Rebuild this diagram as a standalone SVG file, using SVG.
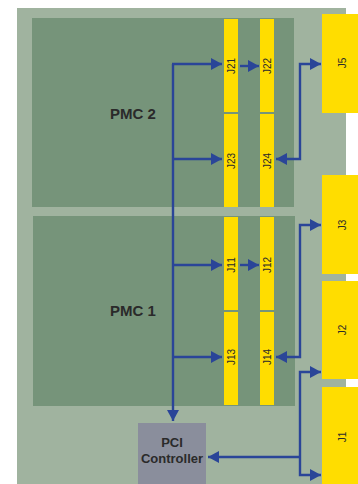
<svg xmlns="http://www.w3.org/2000/svg" width="358" height="484" viewBox="0 0 358 484">
<style>
.board{fill:#a0b39f}
.pmc{fill:#76947a}
.conn{fill:#ffdd00}
.pci{fill:#8a8e9c}
.lbl{font-family:"Liberation Sans",Arial,sans-serif;font-size:10px;fill:#2a2a2a;text-anchor:middle;dominant-baseline:central}
.big{font-family:"Liberation Sans",Arial,sans-serif;font-weight:bold;fill:#2a2a2a;text-anchor:middle}
.wire{fill:none;stroke:#2a4598;stroke-width:2.4}
</style>
<defs>
<marker id="ah" markerUnits="userSpaceOnUse" markerWidth="11" markerHeight="12" refX="11" refY="6" orient="auto-start-reverse">
<path d="M0,0 L11,6 L0,12 z" fill="#2a4598"/>
</marker>
</defs>
<rect width="358" height="484" fill="#ffffff"/>
<rect id="board" class="board" x="17" y="8" width="329" height="476"/>
<g id="pmc2">
<rect class="pmc" x="32" y="18" width="262" height="189"/>
<text class="big" x="133" y="119" font-size="15">PMC 2</text>
</g>
<g id="pmc1">
<rect class="pmc" x="33" y="216" width="262" height="190"/>
<text class="big" x="133" y="316" font-size="15">PMC 1</text>
</g>
<g id="J21"><rect class="conn" x="224" y="19" width="14" height="93"/><text class="lbl" transform="translate(231,66) rotate(-90)">J21</text></g>
<g id="J23"><rect class="conn" x="224" y="114" width="14" height="93"/><text class="lbl" transform="translate(231,161) rotate(-90)">J23</text></g>
<g id="J22"><rect class="conn" x="260" y="19" width="14" height="93"/><text class="lbl" transform="translate(267,66) rotate(-90)">J22</text></g>
<g id="J24"><rect class="conn" x="260" y="114" width="14" height="93"/><text class="lbl" transform="translate(267,161) rotate(-90)">J24</text></g>
<g id="J11"><rect class="conn" x="224" y="217" width="14" height="93"/><text class="lbl" transform="translate(231,265) rotate(-90)">J11</text></g>
<g id="J13"><rect class="conn" x="224" y="312" width="14" height="93"/><text class="lbl" transform="translate(231,357) rotate(-90)">J13</text></g>
<g id="J12"><rect class="conn" x="260" y="217" width="14" height="93"/><text class="lbl" transform="translate(267,265) rotate(-90)">J12</text></g>
<g id="J14"><rect class="conn" x="260" y="312" width="14" height="93"/><text class="lbl" transform="translate(267,357) rotate(-90)">J14</text></g>
<g id="J5"><rect class="conn" x="322" y="14" width="40" height="99"/><text class="lbl" transform="translate(342,63) rotate(-90)">J5</text></g>
<g id="J3"><rect class="conn" x="322" y="175" width="40" height="99"/><text class="lbl" transform="translate(342,225) rotate(-90)">J3</text></g>
<g id="J2"><rect class="conn" x="322" y="281" width="40" height="98"/><text class="lbl" transform="translate(342,330) rotate(-90)">J2</text></g>
<g id="J1"><rect class="conn" x="322" y="387" width="40" height="100"/><text class="lbl" transform="translate(342,437) rotate(-90)">J1</text></g>
<g id="pci">
<rect class="pci" x="138" y="423" width="68" height="64"/>
<text class="big" x="172" y="447" font-size="13">PCI</text>
<text class="big" x="172" y="463" font-size="13">Controller</text>
</g>
<g id="connectors">
<path class="wire" d="M173,64 V421" marker-end="url(#ah)"/>
<path class="wire" d="M172,64 H222" marker-end="url(#ah)"/>
<path class="wire" d="M173,159 H222" marker-end="url(#ah)"/>
<path class="wire" d="M173,265 H222" marker-end="url(#ah)"/>
<path class="wire" d="M173,357 H222" marker-end="url(#ah)"/>
<path class="wire" d="M240,66 H259" marker-end="url(#ah)"/>
<path class="wire" d="M240,265 H259" marker-end="url(#ah)"/>
<path class="wire" d="M276,159 H300 V64 H321" marker-start="url(#ah)" marker-end="url(#ah)"/>
<path class="wire" d="M276,357 H300 V225 H321" marker-start="url(#ah)" marker-end="url(#ah)"/>
<path class="wire" d="M321,372 H300 V475 H321" marker-start="url(#ah)" marker-end="url(#ah)"/>
<path class="wire" d="M300,457 H208" marker-end="url(#ah)"/>
</g>
</svg>
